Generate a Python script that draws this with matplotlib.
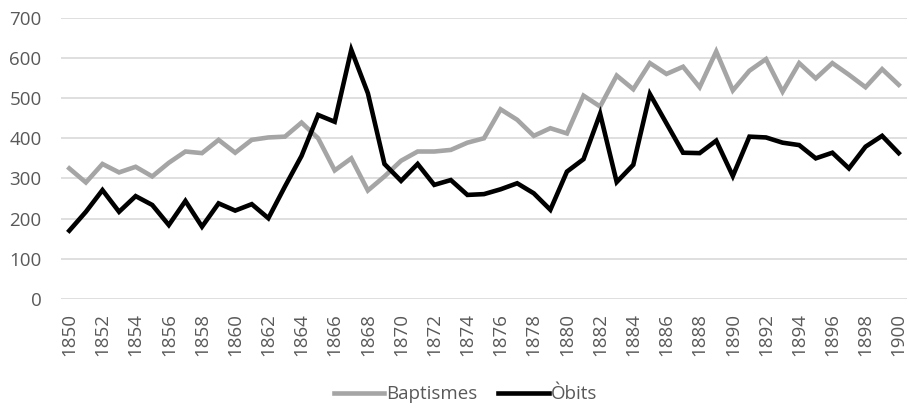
import matplotlib.pyplot as plt

# years and series
years = list(range(1850, 1901))

baptismes = [325, 290, 336, 315, 329, 305, 339, 367, 363, 396,
             364, 396, 402, 404, 439, 400, 320, 350, 270, 305,
             344, 367, 367, 371, 389, 400, 472, 446, 406, 425,
             412, 506, 479, 556, 522, 587, 560, 578, 527, 616,
             519, 568, 597, 516, 587, 549, 587, 558, 527, 572,
             533]

obits = [170, 217, 271, 217, 256, 234, 184, 244, 180, 238,
         220, 236, 201, 280, 356, 458, 441, 620, 512, 336,
         294, 336, 284, 296, 259, 261, 273, 288, 263, 222,
         317, 348, 461, 291, 334, 510, 437, 364, 363, 394,
         306, 404, 402, 389, 383, 350, 364, 325, 379, 406,
         363]

xticks = list(range(1850, 1901, 2))
yticks = list(range(0, 701, 100))

plt.rcParams['font.family'] = ['Open Sans', 'DejaVu Sans']
txt = '#595959'

fig = plt.figure(figsize=(9.09, 4.08), dpi=100)
ax = fig.add_axes([61/909, 1 - 299/408, 846/909, (299 - 17.7)/408])

ax.plot(years, baptismes, color='#a5a5a5', lw=3.3, label='Baptismes',
        solid_joinstyle='miter')
ax.plot(years, obits, color='#000000', lw=3.3, label='Òbits',
        solid_joinstyle='miter')

ax.set_xlim(1849.5, 1900.5)
ax.set_ylim(0, 700)
ax.set_xticks(xticks)
ax.set_xticklabels([str(y) for y in xticks], rotation=90)
ax.set_yticks(yticks)
ax.grid(axis='y', color='#d9d9d9', lw=1.2)
ax.set_axisbelow(True)
for s in ax.spines.values():
    s.set_visible(False)
ax.tick_params(axis='y', length=0, pad=14, labelsize=13.5, labelcolor=txt)
ax.tick_params(axis='x', length=0, pad=10, labelsize=13.5, labelcolor=txt)

fig.legend(loc='center', bbox_to_anchor=(0.512, 0.034), ncol=2,
           frameon=False, fontsize=13.5, labelcolor=txt,
           handlelength=2.7, handletextpad=0.1, columnspacing=1.1)

fig.savefig('out.png', dpi=100)
